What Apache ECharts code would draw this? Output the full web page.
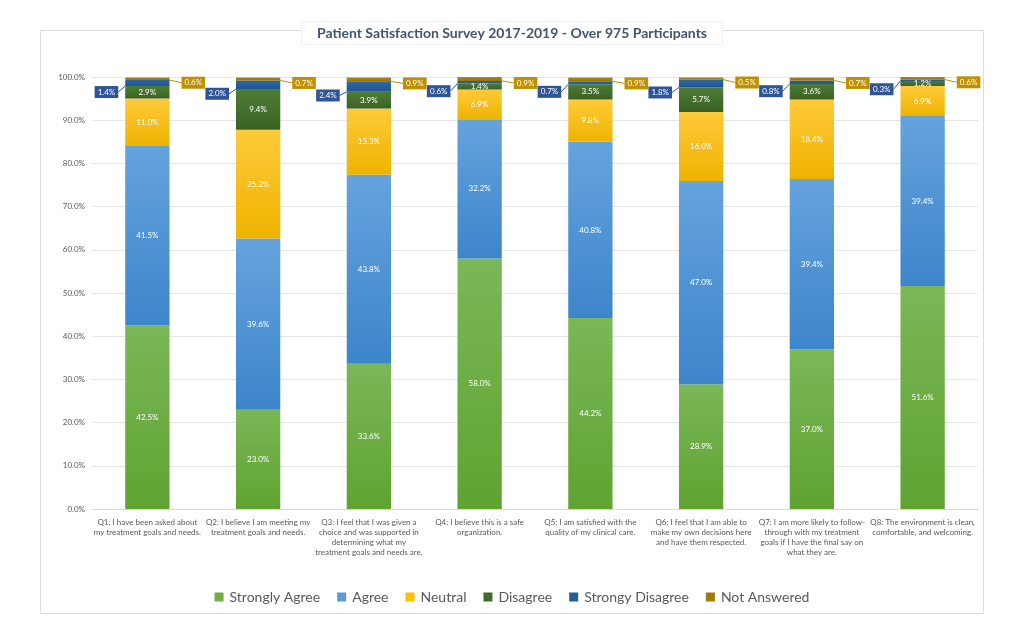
<!DOCTYPE html>
<html>
<head>
<meta charset="utf-8">
<script src="https://cdn.jsdelivr.net/npm/echarts@6/dist/echarts.min.js"></script>
<style>
html,body{margin:0;padding:0;background:#fff;}
#chart{width:1024px;height:631px;}
</style>
</head>
<body>
<div id="chart"></div>
<script>
const categories = [
  "Q1: I have been asked about\nmy treatment goals and needs.",
  "Q2: I believe I am meeting my\ntreatment goals and needs.",
  "Q3: I feel that I was given a\nchoice and was supported in\ndetermining what my\ntreatment goals and needs are.",
  "Q4: I believe this is a safe\norganization.",
  "Q5: I am satisfied with the\nquality of my clinical care.",
  "Q6: I feel that I am able to\nmake my own decisions here\nand have them respected.",
  "Q7: I am more likely to follow-\nthrough with my treatment\ngoals if I have the final say on\nwhat they are.",
  "Q8: The environment is clean,\ncomfortable, and welcoming."
];
const seriesNames = ["Strongly Agree", "Agree", "Neutral", "Disagree", "Strongy Disagree", "Not Answered"];
const stronglyAgree    = [42.5, 23.0, 33.6, 58.0, 44.2, 28.9, 37.0, 51.6];
const agree            = [41.5, 39.6, 43.8, 32.2, 40.8, 47.0, 39.4, 39.4];
const neutral          = [11.0, 25.2, 15.3, 6.9, 9.8, 16.0, 18.4, 6.9];
const disagree         = [2.9, 9.4, 3.9, 1.4, 3.5, 5.7, 3.6, 1.2];
const stronglyDisagree = [1.4, 2.0, 2.4, 0.6, 0.7, 1.8, 0.8, 0.3];
const notAnswered      = [0.6, 0.7, 0.9, 0.9, 0.9, 0.5, 0.7, 0.6];
const yTicks = [0, 10, 20, 30, 40, 50, 60, 70, 80, 90, 100];

const FONT = 'Lato, "Open Sans", sans-serif';
function grad(top, bottom) {
  return {type: 'linear', x: 0, y: 0, x2: 0, y2: 1,
    colorStops: [{offset: 0, color: top}, {offset: 1, color: bottom}]};
}
const solid = ['#70AD47', '#5B9BD5', '#FFC000', '#43682B', '#255E91', '#9E7C0C'];
const fills = [
  grad('#7bb757', '#5fa331'),
  grad('#65a3dd', '#3d85cb'),
  grad('#ffca3a', '#eeb300'),
  grad('#4e7d36', '#3a6124'),
  grad('#2b67a6', '#1f5591'),
  grad('#ad8812', '#937208')
];
const fmt = p => p.value.toFixed(1) + '%';
const insideLabel = {show: true, position: 'inside', color: '#ffffff', fontSize: 8, fontFamily: FONT, formatter: fmt};

const values = [stronglyAgree, agree, neutral, disagree, stronglyDisagree, notAnswered];
const series = values.map((vals, i) => {
  const s = {
    name: seriesNames[i], type: 'bar', stack: 'total', barWidth: '40%',
    data: vals, itemStyle: {color: fills[i]}, label: insideLabel,
    emphasis: {disabled: true}
  };
  if (i === 4) {
    s.label = {show: true, position: 'left', distance: 5, color: '#fff', fontSize: 8, fontFamily: FONT,
      backgroundColor: '#2F5597', padding: [2, 3, 2, 3], formatter: fmt};
    s.labelLayout = {dx: -2, dy: 9};
    s.labelLine = {show: true, lineStyle: {color: '#2F5597', width: 1}};
  }
  if (i === 5) {
    s.label = {show: true, position: 'right', distance: 5, color: '#fff', fontSize: 8, fontFamily: FONT,
      backgroundColor: '#BF9000', padding: [2, 3, 2, 3], formatter: fmt};
    s.labelLayout = {dx: 7, dy: 4};
    s.labelLine = {show: true, lineStyle: {color: '#BF9000', width: 1}};
  }
  return s;
});

const chart = echarts.init(document.getElementById('chart'), null, {renderer: 'canvas'});
chart.setOption({
  animation: false,
  backgroundColor: '#ffffff',
  graphic: [{
    type: 'rect', z: -10, silent: true,
    shape: {x: 40.5, y: 30.5, width: 943, height: 583},
    style: {fill: '#ffffff', stroke: '#dcdcdc', lineWidth: 1}
  }],
  title: {
    text: 'Patient Satisfaction Survey 2017-2019 - Over 975 Participants',
    left: 'center', top: 21,
    backgroundColor: '#ffffff', padding: [5, 16, 5, 16],
    borderColor: '#f0f0f0', borderWidth: 1,
    textStyle: {fontFamily: FONT, fontSize: 14, fontWeight: 'bold', color: '#44546A'}
  },
  legend: {
    bottom: 22, left: 'center', itemWidth: 9, itemHeight: 9, itemGap: 17, icon: 'rect',
    data: seriesNames.map((n, i) => ({name: n, itemStyle: {color: solid[i]}})),
    textStyle: {fontFamily: FONT, fontSize: 14, color: '#595959', padding: [0, 0, 0, 1]}
  },
  grid: {left: 92, right: 46, top: 77, bottom: 122, containLabel: false},
  xAxis: {
    type: 'category', data: categories,
    axisTick: {show: false},
    axisLine: {show: true, lineStyle: {color: '#d9d9d9'}},
    axisLabel: {interval: 0, fontFamily: FONT, fontSize: 8, color: '#595959', lineHeight: 10, margin: 8}
  },
  yAxis: {
    type: 'value', min: yTicks[0], max: yTicks[yTicks.length - 1], interval: 10,
    axisLine: {show: false}, axisTick: {show: false},
    splitLine: {lineStyle: {color: '#e6e6e6'}},
    axisLabel: {fontFamily: FONT, fontSize: 8, color: '#595959', margin: 7,
      formatter: v => v.toFixed(1) + '%'}
  },
  series: series
});
</script>
</body>
</html>
